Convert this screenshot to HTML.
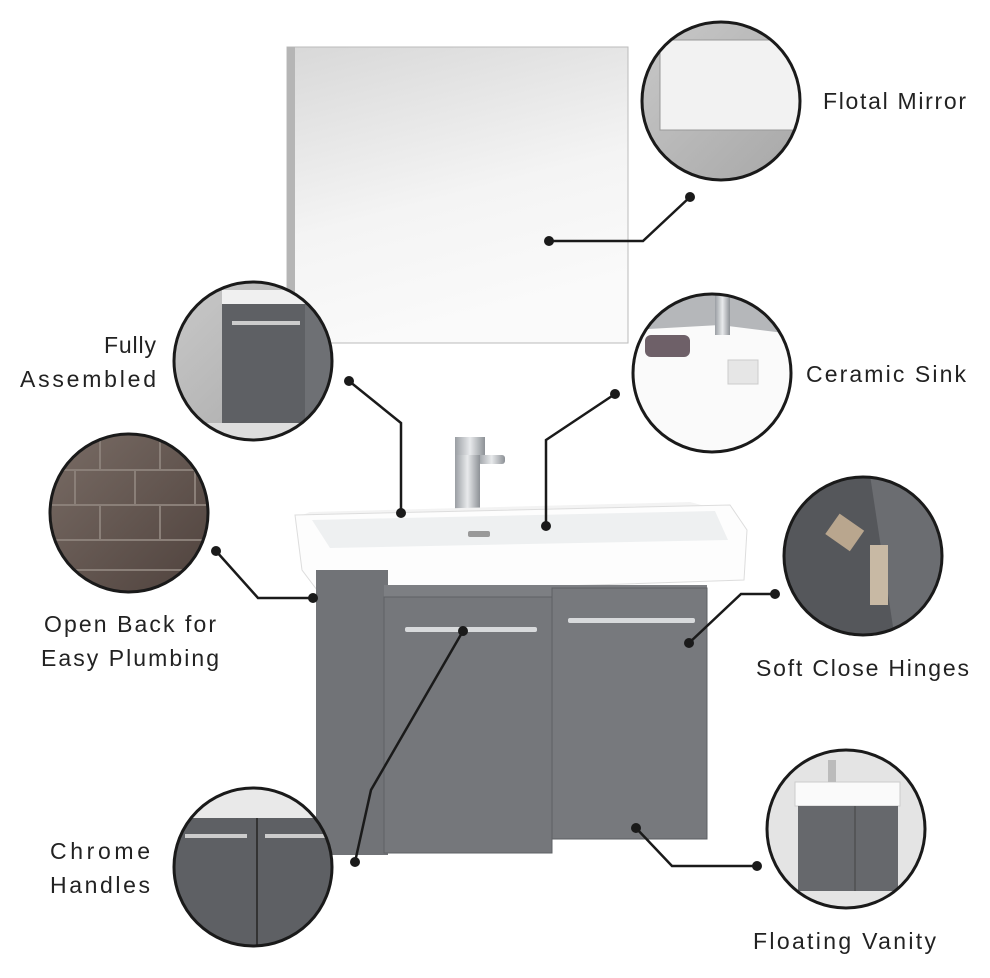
<!DOCTYPE html>
<html><head><meta charset="utf-8"><style>
html,body{margin:0;padding:0;background:#fff}
svg{display:block}
text{font-family:"Liberation Sans",sans-serif;font-size:23px;fill:#222}
</style></head><body>
<svg width="990" height="978" viewBox="0 0 990 978" xmlns="http://www.w3.org/2000/svg">
<defs>
<linearGradient id="mir" x1="0" y1="0" x2="0.3" y2="1">
<stop offset="0" stop-color="#d8d8d8"/><stop offset="0.6" stop-color="#f4f4f4"/><stop offset="1" stop-color="#fafafa"/></linearGradient>
<linearGradient id="chrome" x1="0" y1="0" x2="1" y2="0">
<stop offset="0" stop-color="#9a9ea3"/><stop offset="0.5" stop-color="#e8eaec"/><stop offset="1" stop-color="#8d9196"/></linearGradient>
<linearGradient id="wall" x1="0" y1="0" x2="1" y2="1">
<stop offset="0" stop-color="#c9c9c9"/><stop offset="1" stop-color="#a6a6a6"/></linearGradient>
<linearGradient id="brick" x1="0" y1="0" x2="1" y2="1">
<stop offset="0" stop-color="#7a6d66"/><stop offset="1" stop-color="#4d403b"/></linearGradient>
<clipPath id="c1"><circle cx="721" cy="101" r="79"/></clipPath>
<clipPath id="c2"><circle cx="253" cy="361" r="79"/></clipPath>
<clipPath id="c3"><circle cx="712" cy="373" r="79"/></clipPath>
<clipPath id="c4"><circle cx="129" cy="513" r="79"/></clipPath>
<clipPath id="c5"><circle cx="863" cy="556" r="79"/></clipPath>
<clipPath id="c6"><circle cx="253" cy="867" r="79"/></clipPath>
<clipPath id="c7"><circle cx="846" cy="829" r="79"/></clipPath>
</defs>

<rect x="287" y="47" width="341" height="296" fill="url(#mir)" stroke="#bbb" stroke-width="1"/>
<rect x="287" y="47" width="8" height="296" fill="#b5b5b5"/>

<rect x="455" y="437" width="30" height="20" fill="url(#chrome)"/>
<rect x="478" y="455" width="27" height="9" rx="3" fill="url(#chrome)"/>
<rect x="455" y="455" width="25" height="60" fill="url(#chrome)"/>
<polygon points="310,512 690,502 720,510 300,516" fill="#f3f3f3"/>
<path d="M295,515 L730,505 L747,530 L744,580 L320,594 L302,570 Z" fill="#fdfdfd" stroke="#ddd"/>
<path d="M312,520 L715,511 L728,540 L330,548 Z" fill="#eef0f1"/>
<rect x="468" y="531" width="22" height="6" rx="2" fill="#999"/>
<rect x="316" y="570" width="72" height="285" fill="#717377"/>
<rect x="384" y="585" width="323" height="14" fill="#7d7f83"/>
<rect x="384" y="597" width="168" height="256" fill="#75777b" stroke="#5e6064" stroke-width="1"/>
<rect x="552" y="588" width="155" height="251" fill="#77797d" stroke="#5e6064" stroke-width="1"/>
<rect x="405" y="627" width="132" height="5" rx="2" fill="#d8dadc"/>
<rect x="568" y="618" width="127" height="5" rx="2" fill="#d8dadc"/>

<g clip-path="url(#c1)"><rect x="640" y="20" width="165" height="165" fill="url(#wall)"/><rect x="660" y="40" width="140" height="90" fill="#f2f2f2" stroke="#999"/></g>
<circle cx="721" cy="101" r="79" fill="none" stroke="#1a1a1a" stroke-width="3"/>
<g clip-path="url(#c2)"><rect x="170" y="280" width="170" height="165" fill="url(#wall)"/><rect x="222" y="303" width="90" height="120" fill="#5e6064"/><rect x="222" y="290" width="90" height="14" fill="#f0f0f0"/><rect x="305" y="303" width="30" height="120" fill="#6e7074"/><rect x="232" y="321" width="68" height="4" fill="#ccc"/><rect x="170" y="423" width="170" height="25" fill="#ddd"/></g>
<circle cx="253" cy="361" r="79" fill="none" stroke="#1a1a1a" stroke-width="3"/>
<g clip-path="url(#c3)"><rect x="630" y="290" width="170" height="170" fill="#b5b7ba"/><path d="M630,330 L720,325 L800,335 L800,430 L700,460 L630,440 Z" fill="#fafafa"/><rect x="645" y="335" width="45" height="22" rx="6" fill="#6e6068"/><rect x="715" y="295" width="15" height="40" fill="url(#chrome)"/><rect x="728" y="360" width="30" height="24" fill="#e6e6e6" stroke="#ccc"/></g>
<circle cx="712" cy="373" r="79" fill="none" stroke="#1a1a1a" stroke-width="3"/>
<g clip-path="url(#c4)"><rect x="45" y="430" width="170" height="170" fill="url(#brick)"/><g stroke="#8a7f78" stroke-width="2" fill="none"><path d="M45,470 H215 M45,505 H215 M45,540 H215 M45,570 H215 M100,440 V470 M160,440 V470 M75,470 V505 M135,470 V505 M195,470 V505 M100,505 V540 M160,505 V540"/></g></g>
<circle cx="129" cy="513" r="79" fill="none" stroke="#1a1a1a" stroke-width="3"/>
<g clip-path="url(#c5)"><rect x="780" y="475" width="170" height="165" fill="#55575b"/><polygon points="870,475 950,475 950,640 895,640" fill="#6b6d71"/><rect x="830" y="520" width="30" height="25" fill="#b9a68e" transform="rotate(35 845 532)"/><rect x="870" y="545" width="18" height="60" fill="#c8b9a4"/></g>
<circle cx="863" cy="556" r="79" fill="none" stroke="#1a1a1a" stroke-width="3"/>
<g clip-path="url(#c6)"><rect x="170" y="785" width="170" height="165" fill="#e9e9e9"/><rect x="170" y="818" width="170" height="130" fill="#5e6064"/><line x1="257" y1="818" x2="257" y2="950" stroke="#333" stroke-width="2"/><rect x="185" y="834" width="62" height="4" fill="#ccc"/><rect x="265" y="834" width="62" height="4" fill="#ccc"/></g>
<circle cx="253" cy="867" r="79" fill="none" stroke="#1a1a1a" stroke-width="3"/>
<g clip-path="url(#c7)"><rect x="765" y="748" width="165" height="165" fill="#e4e4e4"/><rect x="795" y="782" width="105" height="24" fill="#fafafa" stroke="#ccc"/><rect x="798" y="806" width="100" height="85" fill="#66686c"/><line x1="855" y1="806" x2="855" y2="891" stroke="#444"/><rect x="828" y="760" width="8" height="22" fill="#bbb"/></g>
<circle cx="846" cy="829" r="79" fill="none" stroke="#1a1a1a" stroke-width="3"/>

<g stroke="#1a1a1a" stroke-width="2.5" fill="none">
<polyline points="549,241 643,241 690,197"/>
<polyline points="349,381 401,423 401,513"/>
<polyline points="615,394 546,440 546,526"/>
<polyline points="216,551 258,598 313,598"/>
<polyline points="775,594 741,594 689,643"/>
<polyline points="463,631 371,790 355,862"/>
<polyline points="636,828 672,866 757,866"/>
</g>
<g fill="#1a1a1a">
<circle cx="549" cy="241" r="5"/><circle cx="690" cy="197" r="5"/>
<circle cx="349" cy="381" r="5"/><circle cx="401" cy="513" r="5"/>
<circle cx="615" cy="394" r="5"/><circle cx="546" cy="526" r="5"/>
<circle cx="216" cy="551" r="5"/><circle cx="313" cy="598" r="5"/>
<circle cx="775" cy="594" r="5"/><circle cx="689" cy="643" r="5"/>
<circle cx="463" cy="631" r="5"/><circle cx="355" cy="862" r="5"/>
<circle cx="636" cy="828" r="5"/><circle cx="757" cy="866" r="5"/>
</g>

<text x="823" y="109" textLength="143" lengthAdjust="spacing">Flotal Mirror</text>
<text x="104" y="353" textLength="52" lengthAdjust="spacing">Fully</text>
<text x="20" y="387" textLength="136" lengthAdjust="spacing">Assembled</text>
<text x="806" y="382" textLength="160" lengthAdjust="spacing">Ceramic Sink</text>
<text x="44" y="632" textLength="172" lengthAdjust="spacing">Open Back for</text>
<text x="41" y="666" textLength="178" lengthAdjust="spacing">Easy Plumbing</text>
<text x="756" y="676" textLength="213" lengthAdjust="spacing">Soft Close Hinges</text>
<text x="50" y="859" textLength="100" lengthAdjust="spacing">Chrome</text>
<text x="50" y="893" textLength="100" lengthAdjust="spacing">Handles</text>
<text x="753" y="949" textLength="183" lengthAdjust="spacing">Floating Vanity</text>
</svg>
</body></html>
